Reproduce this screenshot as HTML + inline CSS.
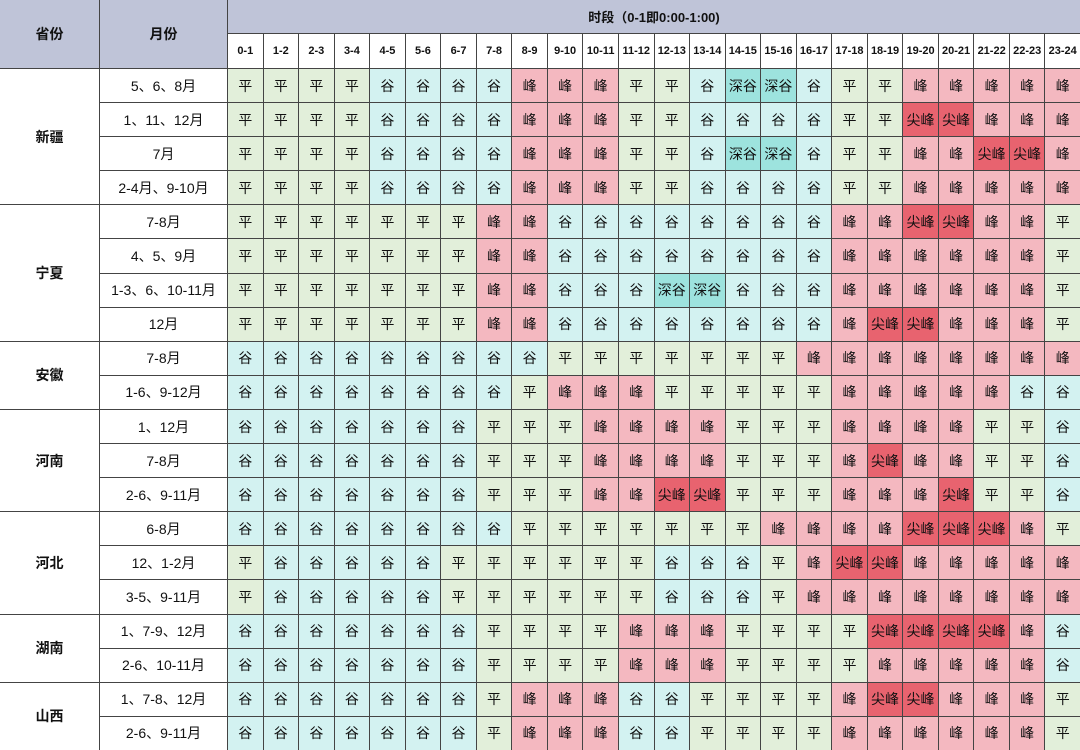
<!DOCTYPE html>
<html><head><meta charset="utf-8"><style>
body{margin:0;background:#fff;}
.g{display:grid;width:1080px;height:750px;grid-template-columns:99px 127px repeat(24,1fr);grid-template-rows:33px 34px repeat(20,1fr);gap:1px;background:#444;font-family:"Liberation Sans","Noto Sans CJK SC",sans-serif;font-size:14px;color:#111;box-sizing:border-box;}
.g>*{display:flex;align-items:center;justify-content:center;background:#fff;font-style:normal;white-space:nowrap;}
.h{background:#bfc4d8 !important;font-weight:bold;font-size:14px;}
.hl{font-weight:bold;font-size:11px;}
.pv{font-weight:bold;font-size:14px;}
.p{background:#e2efda !important}
.v{background:#d3f2f1 !important}
.d{background:#9de3de !important}
.f{background:#f4b8c0 !important}
.j{background:#e8636f !important}
</style></head><body><div class="g">
<div class="h" style="grid-row:span 2">省份</div><div class="h" style="grid-row:span 2">月份</div><div class="h" style="grid-column:span 24;font-size:13px">时段（0-1即0:00-1:00)</div>
<div class="hl">0-1</div><div class="hl">1-2</div><div class="hl">2-3</div><div class="hl">3-4</div><div class="hl">4-5</div><div class="hl">5-6</div><div class="hl">6-7</div><div class="hl">7-8</div><div class="hl">8-9</div><div class="hl">9-10</div><div class="hl">10-11</div><div class="hl">11-12</div><div class="hl">12-13</div><div class="hl">13-14</div><div class="hl">14-15</div><div class="hl">15-16</div><div class="hl">16-17</div><div class="hl">17-18</div><div class="hl">18-19</div><div class="hl">19-20</div><div class="hl">20-21</div><div class="hl">21-22</div><div class="hl">22-23</div><div class="hl">23-24</div>

<div class="pv" style="grid-row:span 4">新疆</div>
<div>5、6、8月</div><i class=p>平</i><i class=p>平</i><i class=p>平</i><i class=p>平</i><i class=v>谷</i><i class=v>谷</i><i class=v>谷</i><i class=v>谷</i><i class=f>峰</i><i class=f>峰</i><i class=f>峰</i><i class=p>平</i><i class=p>平</i><i class=v>谷</i><i class=d>深谷</i><i class=d>深谷</i><i class=v>谷</i><i class=p>平</i><i class=p>平</i><i class=f>峰</i><i class=f>峰</i><i class=f>峰</i><i class=f>峰</i><i class=f>峰</i>
<div>1、11、12月</div><i class=p>平</i><i class=p>平</i><i class=p>平</i><i class=p>平</i><i class=v>谷</i><i class=v>谷</i><i class=v>谷</i><i class=v>谷</i><i class=f>峰</i><i class=f>峰</i><i class=f>峰</i><i class=p>平</i><i class=p>平</i><i class=v>谷</i><i class=v>谷</i><i class=v>谷</i><i class=v>谷</i><i class=p>平</i><i class=p>平</i><i class=j>尖峰</i><i class=j>尖峰</i><i class=f>峰</i><i class=f>峰</i><i class=f>峰</i>
<div>7月</div><i class=p>平</i><i class=p>平</i><i class=p>平</i><i class=p>平</i><i class=v>谷</i><i class=v>谷</i><i class=v>谷</i><i class=v>谷</i><i class=f>峰</i><i class=f>峰</i><i class=f>峰</i><i class=p>平</i><i class=p>平</i><i class=v>谷</i><i class=d>深谷</i><i class=d>深谷</i><i class=v>谷</i><i class=p>平</i><i class=p>平</i><i class=f>峰</i><i class=f>峰</i><i class=j>尖峰</i><i class=j>尖峰</i><i class=f>峰</i>
<div>2-4月、9-10月</div><i class=p>平</i><i class=p>平</i><i class=p>平</i><i class=p>平</i><i class=v>谷</i><i class=v>谷</i><i class=v>谷</i><i class=v>谷</i><i class=f>峰</i><i class=f>峰</i><i class=f>峰</i><i class=p>平</i><i class=p>平</i><i class=v>谷</i><i class=v>谷</i><i class=v>谷</i><i class=v>谷</i><i class=p>平</i><i class=p>平</i><i class=f>峰</i><i class=f>峰</i><i class=f>峰</i><i class=f>峰</i><i class=f>峰</i>

<div class="pv" style="grid-row:span 4">宁夏</div>
<div>7-8月</div><i class=p>平</i><i class=p>平</i><i class=p>平</i><i class=p>平</i><i class=p>平</i><i class=p>平</i><i class=p>平</i><i class=f>峰</i><i class=f>峰</i><i class=v>谷</i><i class=v>谷</i><i class=v>谷</i><i class=v>谷</i><i class=v>谷</i><i class=v>谷</i><i class=v>谷</i><i class=v>谷</i><i class=f>峰</i><i class=f>峰</i><i class=j>尖峰</i><i class=j>尖峰</i><i class=f>峰</i><i class=f>峰</i><i class=p>平</i>
<div>4、5、9月</div><i class=p>平</i><i class=p>平</i><i class=p>平</i><i class=p>平</i><i class=p>平</i><i class=p>平</i><i class=p>平</i><i class=f>峰</i><i class=f>峰</i><i class=v>谷</i><i class=v>谷</i><i class=v>谷</i><i class=v>谷</i><i class=v>谷</i><i class=v>谷</i><i class=v>谷</i><i class=v>谷</i><i class=f>峰</i><i class=f>峰</i><i class=f>峰</i><i class=f>峰</i><i class=f>峰</i><i class=f>峰</i><i class=p>平</i>
<div>1-3、6、10-11月</div><i class=p>平</i><i class=p>平</i><i class=p>平</i><i class=p>平</i><i class=p>平</i><i class=p>平</i><i class=p>平</i><i class=f>峰</i><i class=f>峰</i><i class=v>谷</i><i class=v>谷</i><i class=v>谷</i><i class=d>深谷</i><i class=d>深谷</i><i class=v>谷</i><i class=v>谷</i><i class=v>谷</i><i class=f>峰</i><i class=f>峰</i><i class=f>峰</i><i class=f>峰</i><i class=f>峰</i><i class=f>峰</i><i class=p>平</i>
<div>12月</div><i class=p>平</i><i class=p>平</i><i class=p>平</i><i class=p>平</i><i class=p>平</i><i class=p>平</i><i class=p>平</i><i class=f>峰</i><i class=f>峰</i><i class=v>谷</i><i class=v>谷</i><i class=v>谷</i><i class=v>谷</i><i class=v>谷</i><i class=v>谷</i><i class=v>谷</i><i class=v>谷</i><i class=f>峰</i><i class=j>尖峰</i><i class=j>尖峰</i><i class=f>峰</i><i class=f>峰</i><i class=f>峰</i><i class=p>平</i>

<div class="pv" style="grid-row:span 2">安徽</div>
<div>7-8月</div><i class=v>谷</i><i class=v>谷</i><i class=v>谷</i><i class=v>谷</i><i class=v>谷</i><i class=v>谷</i><i class=v>谷</i><i class=v>谷</i><i class=v>谷</i><i class=p>平</i><i class=p>平</i><i class=p>平</i><i class=p>平</i><i class=p>平</i><i class=p>平</i><i class=p>平</i><i class=f>峰</i><i class=f>峰</i><i class=f>峰</i><i class=f>峰</i><i class=f>峰</i><i class=f>峰</i><i class=f>峰</i><i class=f>峰</i>
<div>1-6、9-12月</div><i class=v>谷</i><i class=v>谷</i><i class=v>谷</i><i class=v>谷</i><i class=v>谷</i><i class=v>谷</i><i class=v>谷</i><i class=v>谷</i><i class=p>平</i><i class=f>峰</i><i class=f>峰</i><i class=f>峰</i><i class=p>平</i><i class=p>平</i><i class=p>平</i><i class=p>平</i><i class=p>平</i><i class=f>峰</i><i class=f>峰</i><i class=f>峰</i><i class=f>峰</i><i class=f>峰</i><i class=v>谷</i><i class=v>谷</i>

<div class="pv" style="grid-row:span 3">河南</div>
<div>1、12月</div><i class=v>谷</i><i class=v>谷</i><i class=v>谷</i><i class=v>谷</i><i class=v>谷</i><i class=v>谷</i><i class=v>谷</i><i class=p>平</i><i class=p>平</i><i class=p>平</i><i class=f>峰</i><i class=f>峰</i><i class=f>峰</i><i class=f>峰</i><i class=p>平</i><i class=p>平</i><i class=p>平</i><i class=f>峰</i><i class=f>峰</i><i class=f>峰</i><i class=f>峰</i><i class=p>平</i><i class=p>平</i><i class=v>谷</i>
<div>7-8月</div><i class=v>谷</i><i class=v>谷</i><i class=v>谷</i><i class=v>谷</i><i class=v>谷</i><i class=v>谷</i><i class=v>谷</i><i class=p>平</i><i class=p>平</i><i class=p>平</i><i class=f>峰</i><i class=f>峰</i><i class=f>峰</i><i class=f>峰</i><i class=p>平</i><i class=p>平</i><i class=p>平</i><i class=f>峰</i><i class=j>尖峰</i><i class=f>峰</i><i class=f>峰</i><i class=p>平</i><i class=p>平</i><i class=v>谷</i>
<div>2-6、9-11月</div><i class=v>谷</i><i class=v>谷</i><i class=v>谷</i><i class=v>谷</i><i class=v>谷</i><i class=v>谷</i><i class=v>谷</i><i class=p>平</i><i class=p>平</i><i class=p>平</i><i class=f>峰</i><i class=f>峰</i><i class=j>尖峰</i><i class=j>尖峰</i><i class=p>平</i><i class=p>平</i><i class=p>平</i><i class=f>峰</i><i class=f>峰</i><i class=f>峰</i><i class=j>尖峰</i><i class=p>平</i><i class=p>平</i><i class=v>谷</i>

<div class="pv" style="grid-row:span 3">河北</div>
<div>6-8月</div><i class=v>谷</i><i class=v>谷</i><i class=v>谷</i><i class=v>谷</i><i class=v>谷</i><i class=v>谷</i><i class=v>谷</i><i class=v>谷</i><i class=p>平</i><i class=p>平</i><i class=p>平</i><i class=p>平</i><i class=p>平</i><i class=p>平</i><i class=p>平</i><i class=f>峰</i><i class=f>峰</i><i class=f>峰</i><i class=f>峰</i><i class=j>尖峰</i><i class=j>尖峰</i><i class=j>尖峰</i><i class=f>峰</i><i class=p>平</i>
<div>12、1-2月</div><i class=p>平</i><i class=v>谷</i><i class=v>谷</i><i class=v>谷</i><i class=v>谷</i><i class=v>谷</i><i class=p>平</i><i class=p>平</i><i class=p>平</i><i class=p>平</i><i class=p>平</i><i class=p>平</i><i class=v>谷</i><i class=v>谷</i><i class=v>谷</i><i class=p>平</i><i class=f>峰</i><i class=j>尖峰</i><i class=j>尖峰</i><i class=f>峰</i><i class=f>峰</i><i class=f>峰</i><i class=f>峰</i><i class=f>峰</i>
<div>3-5、9-11月</div><i class=p>平</i><i class=v>谷</i><i class=v>谷</i><i class=v>谷</i><i class=v>谷</i><i class=v>谷</i><i class=p>平</i><i class=p>平</i><i class=p>平</i><i class=p>平</i><i class=p>平</i><i class=p>平</i><i class=v>谷</i><i class=v>谷</i><i class=v>谷</i><i class=p>平</i><i class=f>峰</i><i class=f>峰</i><i class=f>峰</i><i class=f>峰</i><i class=f>峰</i><i class=f>峰</i><i class=f>峰</i><i class=f>峰</i>

<div class="pv" style="grid-row:span 2">湖南</div>
<div>1、7-9、12月</div><i class=v>谷</i><i class=v>谷</i><i class=v>谷</i><i class=v>谷</i><i class=v>谷</i><i class=v>谷</i><i class=v>谷</i><i class=p>平</i><i class=p>平</i><i class=p>平</i><i class=p>平</i><i class=f>峰</i><i class=f>峰</i><i class=f>峰</i><i class=p>平</i><i class=p>平</i><i class=p>平</i><i class=p>平</i><i class=j>尖峰</i><i class=j>尖峰</i><i class=j>尖峰</i><i class=j>尖峰</i><i class=f>峰</i><i class=v>谷</i>
<div>2-6、10-11月</div><i class=v>谷</i><i class=v>谷</i><i class=v>谷</i><i class=v>谷</i><i class=v>谷</i><i class=v>谷</i><i class=v>谷</i><i class=p>平</i><i class=p>平</i><i class=p>平</i><i class=p>平</i><i class=f>峰</i><i class=f>峰</i><i class=f>峰</i><i class=p>平</i><i class=p>平</i><i class=p>平</i><i class=p>平</i><i class=f>峰</i><i class=f>峰</i><i class=f>峰</i><i class=f>峰</i><i class=f>峰</i><i class=v>谷</i>

<div class="pv" style="grid-row:span 2">山西</div>
<div>1、7-8、12月</div><i class=v>谷</i><i class=v>谷</i><i class=v>谷</i><i class=v>谷</i><i class=v>谷</i><i class=v>谷</i><i class=v>谷</i><i class=p>平</i><i class=f>峰</i><i class=f>峰</i><i class=f>峰</i><i class=v>谷</i><i class=v>谷</i><i class=p>平</i><i class=p>平</i><i class=p>平</i><i class=p>平</i><i class=f>峰</i><i class=j>尖峰</i><i class=j>尖峰</i><i class=f>峰</i><i class=f>峰</i><i class=f>峰</i><i class=p>平</i>
<div>2-6、9-11月</div><i class=v>谷</i><i class=v>谷</i><i class=v>谷</i><i class=v>谷</i><i class=v>谷</i><i class=v>谷</i><i class=v>谷</i><i class=p>平</i><i class=f>峰</i><i class=f>峰</i><i class=f>峰</i><i class=v>谷</i><i class=v>谷</i><i class=p>平</i><i class=p>平</i><i class=p>平</i><i class=p>平</i><i class=f>峰</i><i class=f>峰</i><i class=f>峰</i><i class=f>峰</i><i class=f>峰</i><i class=f>峰</i><i class=p>平</i>
</div></body></html>
